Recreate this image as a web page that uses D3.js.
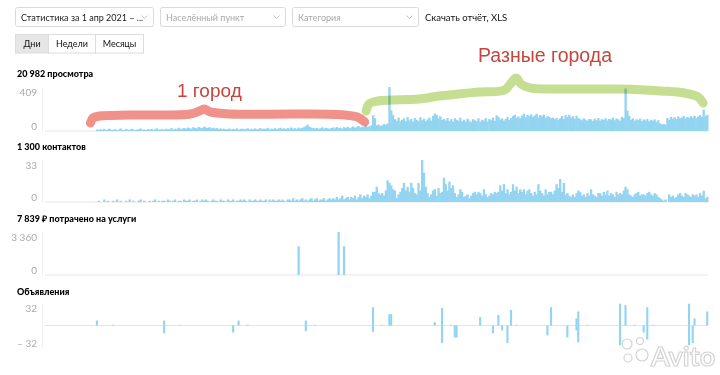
<!DOCTYPE html>
<html>
<head>
<meta charset="utf-8">
<script src="https://cdn.jsdelivr.net/npm/d3@7"></script>
<style>
  body { margin: 0; background: #fff; }
  svg { display: block; font-family: Lato, "Open Sans", sans-serif; }
</style>
</head>
<body>
<svg id="stat" width="720" height="375"></svg>
<script>
// ---- data (one value per day, 1 apr 2021 .. +365 days) ----
var dayCount = 365;

var views = [
  0, 0, 0, 0, 0, 0, 0, 0, 0, 0, 0, 0, 0, 0, 0, 0, 0, 0, 0, 0, 0, 0, 0, 0, 0, 0, 0, 0,
  14, 9, 17, 11, 20, 8, 15, 22, 10, 12,
  18, 7, 13, 24, 11, 9, 19, 13, 10, 21,
  15, 7, 12, 17, 23, 11, 14, 9, 18, 13,
  20, 10, 16, 25, 12, 15, 19, 11, 22, 14,
  17, 27, 13, 21, 16, 30, 18, 24, 28, 20,
  32, 26, 22, 35, 29, 24, 38, 31, 27, 40,
  33, 28, 36, 25, 30, 22, 27, 19, 24, 17,
  21, 15, 18, 23, 14, 20, 16, 25, 12, 19,
  22, 15, 18, 26, 13, 21, 17, 24, 14, 20,
  27, 16, 22, 18, 29, 15, 23, 19, 26, 17,
  24, 30, 20, 25, 18, 28, 22, 33, 21, 26,
  19, 31, 24, 28, 36, 45, 58, 40, 32, 27,
  23, 29, 20, 26, 34, 22, 30, 25, 19, 28,
  33, 24, 37, 27, 31, 22, 35, 29, 40, 26,
  34, 43, 30, 38, 46, 33, 41, 36, 48, 39,
  44, 52,
  146, 118, 55, 60, 48, 52, 65, 58, 70, 409,
  192, 150, 110, 95, 125, 88, 104, 118, 92, 130,
  98, 112, 86, 120, 105, 94, 128, 100, 115, 90,
  108, 125, 96, 140, 162, 150, 118, 136, 104, 112,
  98, 120, 92, 110, 86, 118, 102, 95, 124, 90,
  105, 88, 115, 96, 82, 110, 100, 92, 118, 86,
  104, 96, 120, 88, 112, 100, 125, 94, 146, 130,
  108, 118, 96, 112, 130, 104, 120, 140, 150, 124,
  135, 118, 142, 160, 128, 150, 138, 155, 132, 145,
  160, 126, 148, 136, 152, 120, 140, 130, 118, 125,
  110, 122, 105, 118, 140, 112, 148, 130, 150, 125,
  138, 115, 142, 120, 110, 100, 118, 105, 96, 112,
  108, 92, 115, 100, 120, 96, 110, 104, 118, 98,
  112, 106, 124, 100, 116, 108, 95, 130, 120, 394,
  190, 140, 105, 118, 96, 110, 100, 115, 92, 108,
  98, 112, 90, 104, 96, 108, 85, 100, 72, 60,
  66, 58, 120, 105, 132, 115, 128, 110, 136, 120,
  125, 140, 118, 132, 122, 138, 126, 142, 120, 135,
  148, 130, 198, 140, 150
];

var contacts = [
  0, 0, 0, 0, 0, 0, 0, 0, 0, 0, 0, 0, 0, 0, 0, 0, 0, 0, 0, 0, 0, 0, 0, 0, 0, 0, 0, 0,
  0, 1, 0, 0, 2, 0, 1, 0, 0, 1,
  0, 2, 0, 1, 0, 0, 1, 0, 2, 0,
  1, 0, 0, 1, 2, 0, 1, 0, 0, 1,
  0, 1, 2, 0, 1, 0, 1, 1, 0, 2,
  1, 0, 1, 2, 0, 1, 1, 0, 2, 1,
  1, 2, 0, 1, 1, 2, 0, 1, 2, 1,
  2, 1, 0, 1, 2, 1, 1, 0, 2, 1,
  1, 0, 2, 1, 1, 2, 0, 1, 1, 2,
  1, 2, 1, 0, 2, 1, 1, 2, 1, 1,
  2, 1, 1, 2, 0, 2, 1, 2, 1, 1,
  2, 1, 2, 1, 0, 2, 2, 1, 3, 1,
  2, 1, 2, 3, 1, 2, 1, 2, 3, 1,
  2, 3, 1, 2, 2, 3, 1, 2, 3, 2,
  3, 2, 4, 2, 3, 5, 2, 3, 4, 2,
  4, 3, 5, 2, 4, 6, 3, 5, 4, 6,
  3, 5,
  8, 8, 12, 7, 6, 7, 5, 9, 17, 15,
  13, 10, 9, 3, 6, 8, 11, 15, 9, 12,
  8, 15, 11, 7, 6, 15, 9, 33, 23, 12,
  7, 4, 6, 9, 10, 5, 11, 7, 8, 19,
  14, 9, 16, 11, 13, 7, 4, 6, 10, 8,
  4, 5, 6, 3, 5, 7, 8, 6, 8, 7,
  5, 10, 6, 4, 5, 7, 6, 8, 7, 8,
  13, 9, 14, 7, 10, 6, 8, 14, 9, 12,
  7, 10, 8, 10, 6, 9, 10, 7, 5, 8,
  6, 14, 9, 7, 5, 10, 6, 8, 8, 6,
  9, 14, 11, 18, 8, 15, 6, 7, 5, 4,
  6, 4, 7, 9, 8, 5, 6, 4, 7, 5,
  10, 6, 5, 4, 7, 7, 5, 8, 6, 9,
  5, 7, 6, 4, 8, 6, 7, 6, 9, 12,
  10, 6, 5, 4, 6, 7, 8, 5, 6, 6,
  5, 7, 8, 6, 5, 7, 6, 4, 3, 2,
  1, 2, 0, 6, 4, 5, 3, 4, 6, 7,
  5, 4, 7, 6, 5, 4, 6, 5, 6, 4,
  7, 5, 9, 3, 4
];

var spendDays = [139, 161, 164];
var spend = [2240, 3360, 2239];

var adsDays = [28, 37, 65, 74, 103, 106, 111, 143, 148, 180, 185, 189, 190, 214, 218, 223, 225, 226, 239, 246, 249, 251, 254, 256, 259, 276, 278, 287, 292, 293, 298, 316, 319, 324, 329, 331, 334, 354, 356, 357, 364];
var adsUp = [7, 1, 7, 1, 0, 7, 1, 7, 1, 26, 1, 16, 16, 5, 25, 1, 0, 0, 12, 0, 15, 0, 0, 22, 1, 0, 26, 0, 10, 20, 1, 31, 29, 1, 0, 26, 1, 31, 0, 10, 20];
var adsDown = [0, 0, 11, 0, 10, 0, 0, 8, 0, 9, 0, 0, 0, 0, 25, 0, 17, 17, 0, 11, 0, 7, 25, 0, 0, 14, 0, 17, 7, 24, 0, 28, 0, 0, 10, 20, 0, 28, 25, 0, 0];

var panelTitles = ['20 982 просмотра', '1 300 контактов', '7 839 \u20bd потрачено на услуги', 'Объявления'];
var periodTabs = ['Дни', 'Недели', 'Месяцы'];

// hand-drawn marks, in [day, views] of the first panel
var oneCityStroke = [[25, 74], [26.4, 121], [30, 139], [47, 149], [80, 158], [85, 186], [87.6, 204], [91, 177], [102, 158], [140, 158], [165, 149], [172, 130], [176, 84]];
var manyCityStroke = [[176.8, 186], [178.4, 251], [183.4, 279], [206, 297], [217, 325], [239, 363], [253, 381], [257, 455], [259.4, 493], [262, 437], [267, 400], [284, 390], [317, 390], [339, 372], [352, 353], [359.6, 316], [362.3, 260]];

var statchart = {

  svg: d3.select('#stat'),
  barColour: '#93d4f1',
  ru: d3.formatLocale({decimal: ',', thousands: '\u00a0', grouping: [3], currency: ['', ' \u20bd']}),

  init: function() {
    this.x = d3.scaleBand().domain(d3.range(dayCount)).range([45, 708]).padding(0);
    this.initControls()
        .initPanels()
        .initNotes()
        .initMark();
  },

  initControls: function() {
    var svg = this.svg;
    var boxes = [
      {x: 15.5, w: 138, text: 'Статистика за 1 апр 2021 – ...', colour: '#222'},
      {x: 160.5, w: 125, text: 'Населённый пункт', colour: '#a8a8a8'},
      {x: 292.5, w: 126, text: 'Категория', colour: '#a8a8a8'}
    ];
    var g = svg.append('g').attr('class', 'controls');
    boxes.forEach(function(b) {
      g.append('rect').attr('x', b.x).attr('y', 7.5).attr('width', b.w).attr('height', 19)
        .attr('rx', 2).attr('fill', '#fff').attr('stroke', '#dadada');
      g.append('text').attr('x', b.x + 5.5).attr('y', 20.5).attr('font-size', 9)
        .attr('fill', b.colour).text(b.text);
      var cx = b.x + b.w - 9;
      g.append('path').attr('d', 'M' + (cx - 3) + ',15.5L' + cx + ',18.5L' + (cx + 3) + ',15.5')
        .attr('fill', 'none').attr('stroke', '#bcbcbc').attr('stroke-width', 0.9);
    });
    g.append('text').attr('x', 425).attr('y', 20.5).attr('font-size', 9.5)
      .attr('fill', '#111').text('Скачать отчёт, XLS');

    var widths = [33, 47, 48], left = 15.5;
    periodTabs.forEach(function(t, i) {
      g.append('rect').attr('x', left).attr('y', 34.5).attr('width', widths[i]).attr('height', 18.5)
        .attr('fill', i === 0 ? '#e6e6e6' : '#fff').attr('stroke', '#dcdcdc');
      g.append('text').attr('x', left + widths[i] / 2).attr('y', 47).attr('text-anchor', 'middle')
        .attr('font-size', 9).attr('fill', '#111').text(t);
      left += widths[i];
    });
    return this;
  },

  axis: function(g, y, ticks, fmt) {
    var ax = g.append('g').attr('transform', 'translate(42,0)')
      .call(d3.axisLeft(y).tickValues(ticks).tickSize(0).tickPadding(5).tickFormat(fmt));
    ax.select('.domain').attr('stroke', '#efefef');
    // low tick first in tickValues: nudge both labels inside the range
    ax.selectAll('text').attr('font-size', 10).attr('fill', '#aaa')
      .attr('font-family', 'Lato, sans-serif')
      .attr('y', function(d, i) { return i === 0 ? -5 : 5; });
    return ax;
  },

  title: function(text, y) {
    this.svg.append('text').attr('x', 17).attr('y', y).attr('font-size', 9)
      .attr('font-weight', 900).attr('fill', '#000').text(text);
  },

  columns: function(g, days, vals, y) {
    var x = this.x, self = this;
    g.selectAll('rect.bar').data(days.map(function(d, i) { return {day: d, v: vals[i]}; })
        .filter(function(d) { return d.v > 0; }))
      .enter().append('rect').attr('class', 'bar')
      .attr('x', function(d) { return x(d.day); })
      .attr('width', x.bandwidth() + 0.5)
      .attr('y', function(d) { return y(d.v); })
      .attr('height', function(d) { return y(0) - y(d.v); })
      .attr('fill', self.barColour);
  },

  initPanels: function() {
    var svg = this.svg, x = this.x, self = this, fmt = this.ru.format(',d');
    var allDays = d3.range(dayCount);

    // views
    this.yViews = d3.scaleLinear().domain([0, 409]).range([131, 87]);
    this.title(panelTitles[0], 77);
    var g1 = svg.append('g');
    g1.append('line').attr('x1', 45).attr('x2', 708).attr('y1', 131).attr('y2', 131).attr('stroke', '#e6e6e6');
    this.axis(g1, this.yViews, [0, 409], fmt);
    this.columns(g1, allDays, views, this.yViews);

    // contacts
    var yContacts = d3.scaleLinear().domain([0, 33]).range([202, 160]);
    this.title(panelTitles[1], 150);
    var g2 = svg.append('g');
    g2.append('line').attr('x1', 45).attr('x2', 708).attr('y1', 202).attr('y2', 202).attr('stroke', '#e6e6e6');
    this.axis(g2, yContacts, [0, 33], fmt);
    this.columns(g2, allDays, contacts, yContacts);

    // spend
    var ySpend = d3.scaleLinear().domain([0, 3360]).range([275, 232]);
    this.title(panelTitles[2], 222);
    var g3 = svg.append('g');
    g3.append('line').attr('x1', 45).attr('x2', 708).attr('y1', 275).attr('y2', 275).attr('stroke', '#e6e6e6');
    this.axis(g3, ySpend, [0, 3360], fmt);
    this.columns(g3, spendDays, spend, ySpend);

    // ads: up / down around zero
    var yAds = d3.scaleLinear().domain([-32, 32]).range([348, 303]);
    this.title(panelTitles[3], 295);
    var g4 = svg.append('g');
    g4.append('line').attr('x1', 45).attr('x2', 708).attr('y1', yAds(0)).attr('y2', yAds(0)).attr('stroke', '#e3e3e3');
    this.axis(g4, yAds, [-32, 32], function(d) { return d < 0 ? '\u2013 ' + Math.abs(d) : d; });
    var ads = adsDays.map(function(d, i) { return {day: d, up: adsUp[i], down: adsDown[i]}; });
    g4.selectAll('rect.up').data(ads.filter(function(d) { return d.up > 0; }))
      .enter().append('rect').attr('class', 'up')
      .attr('x', function(d) { return x(d.day); }).attr('width', x.bandwidth() + 0.3)
      .attr('y', function(d) { return yAds(d.up); })
      .attr('height', function(d) { return yAds(0) - yAds(d.up); })
      .attr('fill', self.barColour);
    g4.selectAll('rect.down').data(ads.filter(function(d) { return d.down > 0; }))
      .enter().append('rect').attr('class', 'down')
      .attr('x', function(d) { return x(d.day); }).attr('width', x.bandwidth() + 0.3)
      .attr('y', yAds(0))
      .attr('height', function(d) { return yAds(-d.down) - yAds(0); })
      .attr('fill', self.barColour);
    return this;
  },

  initNotes: function() {
    var x = this.x, y = this.yViews;
    var line = d3.line()
      .x(function(d) { return x(0) + d[0] * x.step(); })
      .y(function(d) { return y(d[1]); })
      .curve(d3.curveCatmullRom);
    var g = this.svg.append('g').style('mix-blend-mode', 'multiply');
    g.append('path').attr('d', line(oneCityStroke)).attr('fill', 'none')
      .attr('stroke', '#f0918a').attr('stroke-width', 9).attr('stroke-linecap', 'round').attr('stroke-linejoin', 'round');
    g.append('path').attr('d', line(manyCityStroke)).attr('fill', 'none')
      .attr('stroke', '#c6de92').attr('stroke-width', 9).attr('stroke-linecap', 'round').attr('stroke-linejoin', 'round');

    this.svg.append('text').attr('x', 177).attr('y', 97).attr('font-size', 19)
      .attr('font-family', '"Liberation Sans", Arial, sans-serif').attr('fill', '#c4463f').text('1 город');
    this.svg.append('text').attr('x', 478).attr('y', 62).attr('font-size', 19.5)
      .attr('font-family', '"Liberation Sans", Arial, sans-serif').attr('fill', '#c4463f').text('Разные города');
    return this;
  },

  initMark: function() {
    var g = this.svg.append('g').attr('opacity', 0.9);
    [[627, 344, 5], [640, 341, 3.5], [628, 358, 4], [642, 355, 6]].forEach(function(c) {
      g.append('circle').attr('cx', c[0]).attr('cy', c[1]).attr('r', c[2])
        .attr('fill', '#fff').attr('stroke', '#cfcfcf').attr('stroke-width', 1.2);
    });
    g.append('text').attr('x', 651).attr('y', 366).attr('font-size', 27).attr('font-weight', 700)
      .attr('fill', '#fff').attr('stroke', '#cfcfcf').attr('stroke-width', 1.2).text('Avito');
    return this;
  }
};

statchart.init();
</script>
</body>
</html>
